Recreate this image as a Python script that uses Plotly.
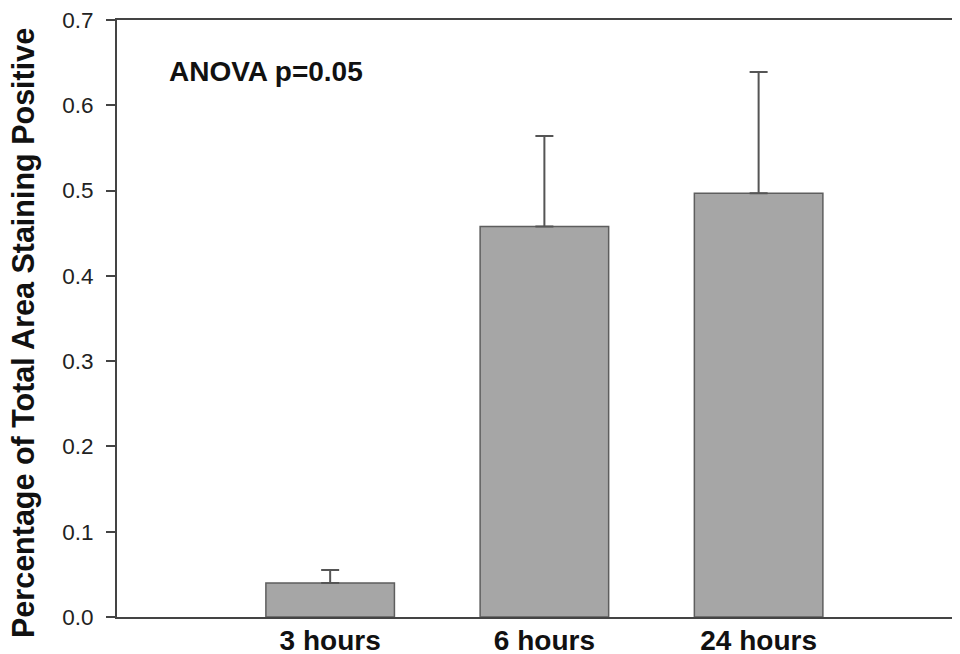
import plotly.graph_objects as go

categories = ["3 hours", "6 hours", "24 hours"]
values = [0.040, 0.458, 0.497]
errors_plus = [0.015, 0.106, 0.142]
y_ticks = [0.0, 0.1, 0.2, 0.3, 0.4, 0.5, 0.6, 0.7]

FONT = "Arial, Liberation Sans, Helvetica, sans-serif"

# The page body adds an 8px margin; size the figure so it fills the window.
W, H = 952, 646
L, T, B, R = 109, 12, 37, 0
plot_w = W - L - R
plot_h = H - T - B

def px_to_paper_x(px):
    return (px - 8 - L) / plot_w

def px_to_paper_y(py):
    return (H - B - (py - 8)) / plot_h

fig = go.Figure()
fig.add_trace(go.Bar(
    x=categories,
    y=values,
    width=0.6,
    marker=dict(color="#a6a6a6", line=dict(color="#5e5e5e", width=1.5)),
    error_y=dict(type="data", symmetric=False, array=errors_plus,
                 arrayminus=[0, 0, 0], color="#555555", thickness=2, width=9),
    showlegend=False,
))

fig.update_layout(
    width=W, height=H,
    margin=dict(l=L, r=R, t=T, b=B, autoexpand=False),
    paper_bgcolor="white", plot_bgcolor="white",
    font=dict(family=FONT, color="#111111"),
    xaxis=dict(
        type="category",
        range=[-0.995, 2.94],
        showline=True, linecolor="#444444", linewidth=2, mirror=True,
        ticks="", showgrid=False, zeroline=False,
        tickfont=dict(size=28, family=FONT, color="#111111", weight="bold"),
        ticklabeloverflow="allow",
        ticklabelstandoff=-3,
    ),
    yaxis=dict(
        range=[0, 0.7],
        tickvals=y_ticks,
        tickformat=".1f",
        showline=True, linecolor="#444444", linewidth=2,
        ticks="outside", ticklen=9, tickwidth=2, tickcolor="#444444",
        showgrid=False, zeroline=False,
        tickfont=dict(size=22.5, family=FONT, color="#222222"),
        ticklabelstandoff=8,
        ticklabeloverflow="allow",
    ),
    annotations=[
        dict(text="<b>Percentage of Total Area Staining Positive</b>",
             textangle=-90, xref="paper", yref="paper",
             x=px_to_paper_x(23), y=px_to_paper_y(333),
             xanchor="center", yanchor="middle",
             showarrow=False, font=dict(size=30.5, family=FONT, color="#111111")),
        dict(text="<b>ANOVA p=0.05</b>", xref="paper", yref="paper",
             x=px_to_paper_x(167), y=px_to_paper_y(72),
             xanchor="left", yanchor="middle",
             showarrow=False, font=dict(size=28, family=FONT, color="#111111")),
    ],
)

fig.write_html("out.html")
